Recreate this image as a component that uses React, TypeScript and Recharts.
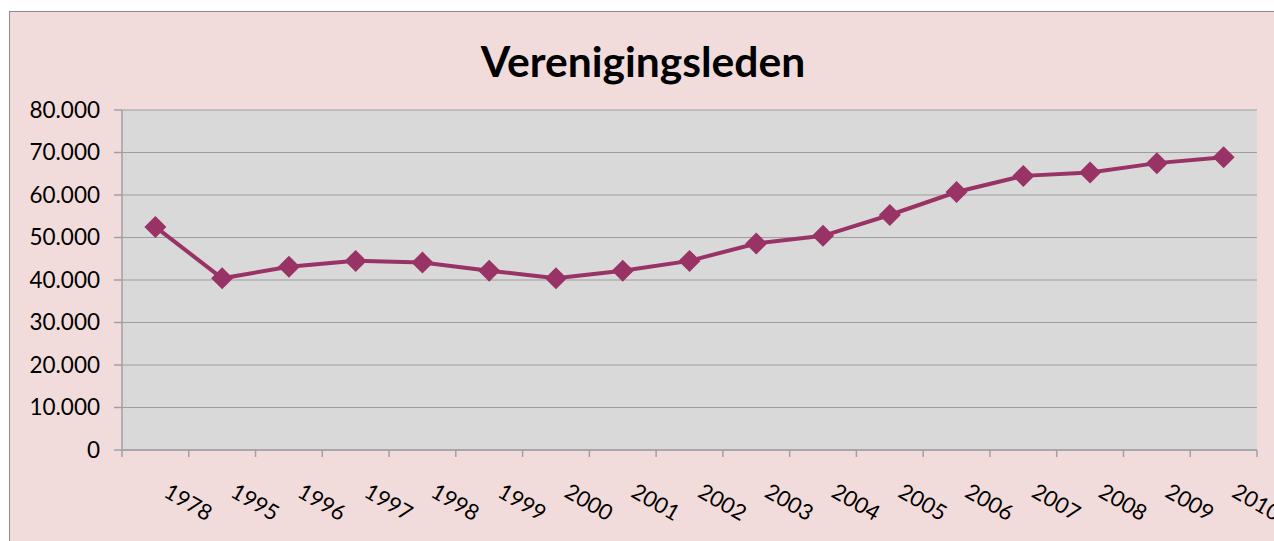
import React from "react";
import { LineChart, Line, XAxis, YAxis, CartesianGrid } from "recharts";

const years = ["1978","1995","1996","1997","1998","1999","2000","2001","2002","2003","2004","2005","2006","2007","2008","2009","2010"];
const members = [52500,40400,43100,44500,44100,42200,40400,42200,44500,48600,50400,55300,60700,64500,65300,67500,68900];
const yTicks = [0,10000,20000,30000,40000,50000,60000,70000,80000];

const data = years.map((y, i) => ({ year: y, leden: members[i] }));

const W = 1274;
const H = 541;
const PLOT_LEFT = 122;
const PLOT_TOP = 110;
const PLOT_BOTTOM = 450;
const M = { top: PLOT_TOP, right: 17, bottom: 0, left: 0 };
const PLOT_W = W - PLOT_LEFT - M.right;
const BAND = PLOT_W / years.length;
const FONT = "Lato, 'Open Sans', sans-serif";

const fmt = (v: number) => String(v).replace(/\B(?=(\d{3})+(?!\d))/g, ".");

const XTick = (props: any) => {
  const { x, y, payload, index } = props;
  const sx = x + 7;
  const sy = y + 46;
  return (
    <g>
      <line x1={x - BAND / 2} y1={y} x2={x - BAND / 2} y2={y + 7} stroke="#A0A0A0" strokeWidth={1.5} />
      {index === years.length - 1 && (
        <line x1={x + BAND / 2} y1={y} x2={x + BAND / 2} y2={y + 7} stroke="#A0A0A0" strokeWidth={1.5} />
      )}
      <text x={sx} y={sy} transform={`rotate(30, ${sx}, ${sy})`} textAnchor="start" fontSize={22} fontFamily={FONT} fill="#000">
        {payload.value}
      </text>
    </g>
  );
};

const Diamond = (props: any) => {
  const { cx, cy } = props;
  if (cx == null || cy == null) return null;
  const r = 11;
  return <polygon points={`${cx},${cy - r} ${cx + r},${cy} ${cx},${cy + r} ${cx - r},${cy}`} fill="#993366" />;
};

export default function App() {
  return (
    <div style={{ position: "absolute", left: 0, top: 0, width: W, height: H, overflow: "hidden", background: "#fff" }}>
      <div style={{ position: "absolute", left: 9, top: 11, width: W + 20, height: H + 20, background: "#F2DCDB", borderLeft: "1.5px solid #8C8C8C", borderTop: "1.5px solid #8C8C8C" }} />
      <div style={{ position: "absolute", left: 0, top: 36, width: 1286, textAlign: "center", fontFamily: FONT, fontWeight: 700, fontSize: 42.6, color: "#000", lineHeight: "50px" }}>
        Verenigingsleden
      </div>
      <div style={{ position: "absolute", left: 0, top: 0 }}>
        <LineChart width={W} height={H} data={data} margin={M}>
          <CartesianGrid vertical={false} fill="#D9D9D9" fillOpacity={1} stroke="#9E9E9E" strokeWidth={1.2} />
          <XAxis
            dataKey="year"
            tick={<XTick />}
            tickLine={false}
            tickSize={0}
            tickMargin={0}
            axisLine={{ stroke: "#A0A0A0", strokeWidth: 1.5 }}
            interval={0}
            height={H - PLOT_BOTTOM}
            padding={{ left: BAND / 2, right: BAND / 2 }}
          />
          <YAxis
            domain={[0, 80000]}
            ticks={yTicks}
            tickFormatter={fmt}
            width={PLOT_LEFT}
            tickSize={8}
            tickMargin={14}
            interval={0}
            axisLine={{ stroke: "#A0A0A0", strokeWidth: 1.5 }}
            tickLine={{ stroke: "#A0A0A0", strokeWidth: 1.5 }}
            tick={{ fontSize: 22.5, fontFamily: FONT, fill: "#000" }}
          />
          <Line
            type="linear"
            dataKey="leden"
            stroke="#993366"
            strokeWidth={4}
            dot={<Diamond />}
            activeDot={false}
            isAnimationActive={false}
          />
        </LineChart>
      </div>
    </div>
  );
}
